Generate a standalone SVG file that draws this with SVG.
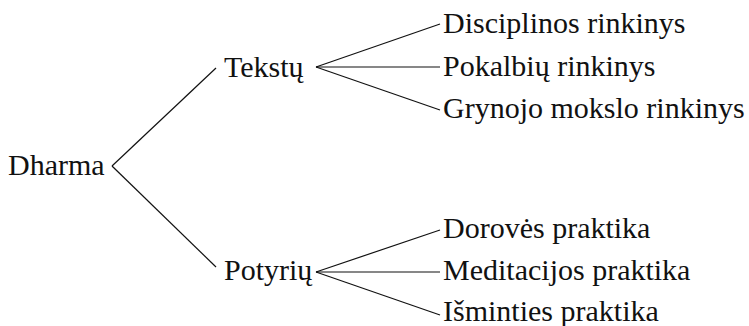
<svg xmlns="http://www.w3.org/2000/svg" width="749" height="326" viewBox="0 0 749 326">
<style>
.c line{stroke:#111;stroke-width:1.2;fill:none}
</style>
<rect width="749" height="326" fill="#fff"/>
<g class="c" id="connectors">
<line x1="112" y1="166" x2="216" y2="68"/>
<line x1="112" y1="166" x2="216" y2="267"/>
<line x1="316" y1="67" x2="440" y2="24"/>
<line x1="316" y1="67" x2="440" y2="67"/>
<line x1="316" y1="67" x2="440" y2="110"/>
<line x1="316" y1="272" x2="440" y2="230"/>
<line x1="316" y1="272" x2="440" y2="272"/>
<line x1="316" y1="272" x2="440" y2="315"/>
</g>
<g id="dharma"><text x="8" y="175" font-family="Liberation Serif" font-size="30" fill="#111">Dharma</text></g>
<g id="tekstu"><text x="224" y="77" font-family="Liberation Serif" font-size="30" fill="#111">Tekstų</text></g>
<g id="potyriu"><text x="224" y="280" font-family="Liberation Serif" font-size="30" fill="#111">Potyrių</text></g>
<g id="disciplinos"><text x="443" y="33" font-family="Liberation Serif" font-size="30" fill="#111">Disciplinos rinkinys</text></g>
<g id="pokalbiu"><text x="443" y="76" font-family="Liberation Serif" font-size="30" fill="#111">Pokalbių rinkinys</text></g>
<g id="grynojo"><text x="443" y="118" font-family="Liberation Serif" font-size="30" fill="#111">Grynojo mokslo rinkinys</text></g>
<g id="doroves"><text x="443" y="238" font-family="Liberation Serif" font-size="30" fill="#111">Dorovės praktika</text></g>
<g id="meditacijos"><text x="443" y="280" font-family="Liberation Serif" font-size="30" fill="#111">Meditacijos praktika</text></g>
<g id="isminties"><text x="443" y="321" font-family="Liberation Serif" font-size="30" fill="#111">Išminties praktika</text></g>
</svg>
